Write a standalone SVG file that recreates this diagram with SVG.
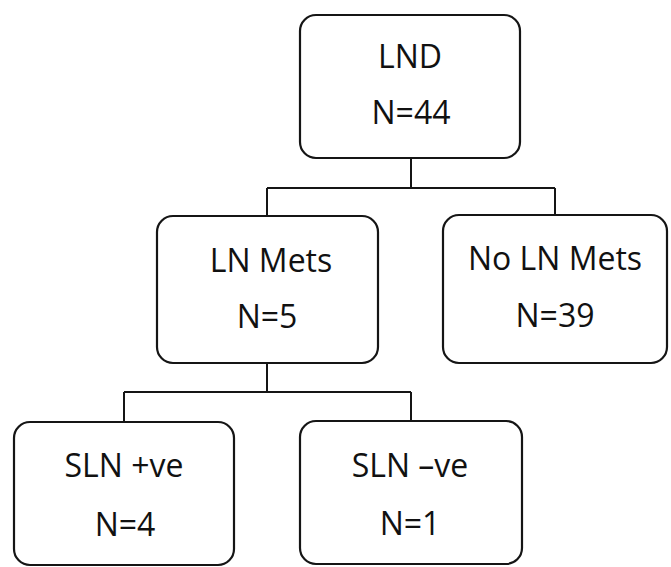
<svg xmlns="http://www.w3.org/2000/svg" width="671" height="567" viewBox="0 0 671 567">
<style>
.box{fill:#fff;stroke:#151515;stroke-width:2.2}
.ln{fill:none;stroke:#151515;stroke-width:2}
text{font-family:"Open Sans","Liberation Sans",sans-serif;font-size:32px;fill:#111;text-anchor:middle}
</style>
<rect width="671" height="567" fill="#fff"/>
<g id="connectors">
<path class="ln" d="M411 158V188M267 188H555M267 188V216M555 188V215"/>
<path class="ln" d="M267 363V392M124 392H411M124 392V422M411 392V421"/>
</g>
<g id="lnd">
<rect class="box" x="300" y="15" width="220" height="143" rx="16"/>
<text x="410" y="68">LND</text>
<text x="411" y="124">N=44</text>
</g>
<g id="lnmets">
<rect class="box" x="157" y="216" width="221" height="147" rx="16"/>
<text x="271" y="272">LN Mets</text>
<text x="267" y="328">N=5</text>
</g>
<g id="nolnmets">
<rect class="box" x="443" y="215" width="224" height="148" rx="16"/>
<text x="555" y="270">No LN Mets</text>
<text x="555" y="327">N=39</text>
</g>
<g id="slnpos">
<rect class="box" x="14" y="422" width="220" height="143" rx="16"/>
<text x="124" y="477">SLN +ve</text>
<text x="125" y="536">N=4</text>
</g>
<g id="slnneg">
<rect class="box" x="300" y="421" width="222" height="143" rx="16"/>
<text x="410" y="477">SLN –ve</text>
<text x="410" y="535">N=1</text>
</g>
</svg>
